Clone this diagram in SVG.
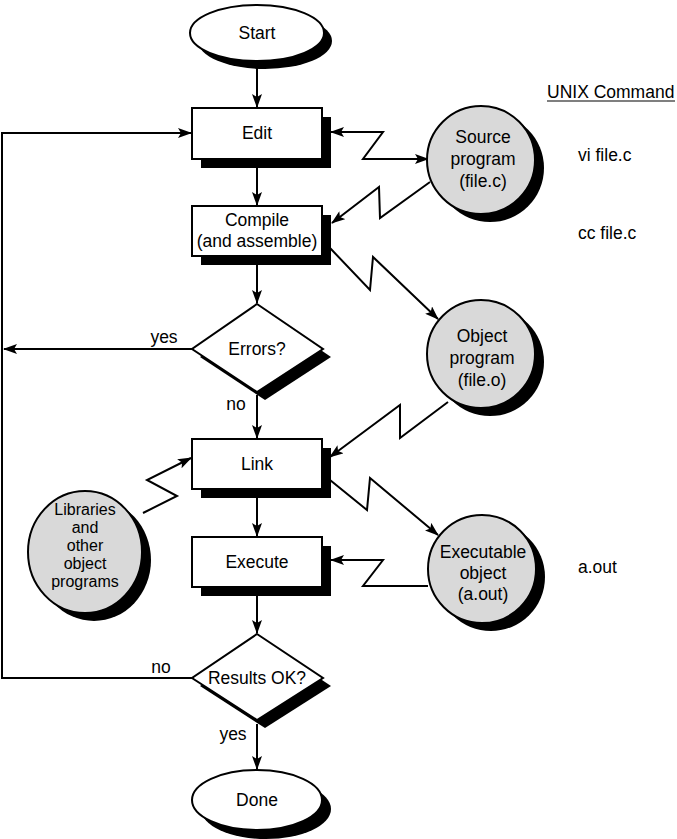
<svg xmlns="http://www.w3.org/2000/svg" width="677" height="839" viewBox="0 0 677 839">
<style>
.sh{fill:#000;stroke:none}
.box{fill:#fff;stroke:#000;stroke-width:2}
.circ{fill:#d9d9d9;stroke:#000;stroke-width:2}
.t{font-family:"Liberation Sans",Arial,sans-serif;font-size:17.5px;fill:#000;text-anchor:middle}
.ts{font-family:"Liberation Sans",Arial,sans-serif;font-size:16px;fill:#000;text-anchor:middle}
.tl{font-family:"Liberation Sans",Arial,sans-serif;font-size:17.5px;fill:#000}
.c{fill:none;stroke:#000;stroke-width:2}
</style>
<defs>
<marker id="ah" viewBox="0 0 14 10" refX="13" refY="5" markerWidth="14" markerHeight="10" markerUnits="userSpaceOnUse" orient="auto-start-reverse">
<path d="M0,0 L14,5 L0,10 L3,5 Z" fill="#000"/>
</marker>
</defs>
<rect width="677" height="839" fill="#fff"/>

<g id="connectors">
<line class="c" x1="257" y1="60" x2="257" y2="107" marker-end="url(#ah)"/>
<line class="c" x1="257" y1="168" x2="257" y2="205" marker-end="url(#ah)"/>
<line class="c" x1="257" y1="265" x2="257" y2="303" marker-end="url(#ah)"/>
<line class="c" x1="257" y1="395" x2="257" y2="438" marker-end="url(#ah)"/>
<line class="c" x1="257" y1="498" x2="257" y2="536" marker-end="url(#ah)"/>
<line class="c" x1="257" y1="596" x2="257" y2="633" marker-end="url(#ah)"/>
<line class="c" x1="257" y1="724" x2="257" y2="769" marker-end="url(#ah)"/>
<polyline class="c" points="192,678 2,678 2,133 191,133" marker-end="url(#ah)"/>
<line class="c" x1="192" y1="349" x2="4" y2="349" marker-end="url(#ah)"/>
<polyline class="c" points="428,159 363,159 383,132 331,132" marker-start="url(#ah)" marker-end="url(#ah)"/>
<polyline class="c" points="430,182 380,218 379,187 332,223" marker-end="url(#ah)"/>
<polyline class="c" points="330,248 370,290 373,257 438,319" marker-end="url(#ah)"/>
<polyline class="c" points="448,402 400,438 400,405 330,457" marker-end="url(#ah)"/>
<polyline class="c" points="330,480 367,510 370,478 438,535" marker-end="url(#ah)"/>
<polyline class="c" points="428,586 363,586 383,560 331,560" marker-end="url(#ah)"/>
<polyline class="c" points="143,513 177,496 147,480 191,458" marker-end="url(#ah)"/>
</g>

<g id="start">
<ellipse class="sh" cx="265" cy="41" rx="67" ry="28"/>
<ellipse class="box" cx="257" cy="33" rx="67" ry="28"/>
<text class="t" x="257" y="39">Start</text>
</g>

<g id="edit">
<rect class="sh" x="201" y="117" width="130" height="51"/>
<rect class="box" x="192" y="108" width="130" height="51"/>
<text class="t" x="257" y="139">Edit</text>
</g>

<g id="compile">
<rect class="sh" x="201" y="215" width="130" height="50"/>
<rect class="box" x="192" y="206" width="130" height="50"/>
<text class="t" x="257" y="226">Compile</text>
<text class="t" x="257" y="247">(and assemble)</text>
</g>

<g id="errors">
<polygon class="sh" points="265,312 331,357 265,400 200,357"/>
<polygon class="box" points="257,304 323,349 257,392 192,349"/>
<text class="t" x="257" y="355">Errors?</text>
<text class="t" x="164" y="343">yes</text>
<text class="t" x="236" y="410">no</text>
</g>

<g id="link">
<rect class="sh" x="201" y="448" width="130" height="50"/>
<rect class="box" x="192" y="439" width="130" height="50"/>
<text class="t" x="257" y="470">Link</text>
</g>

<g id="execute">
<rect class="sh" x="201" y="546" width="130" height="50"/>
<rect class="box" x="192" y="537" width="130" height="50"/>
<text class="t" x="257" y="568">Execute</text>
</g>

<g id="results">
<polygon class="sh" points="265,642 331,686 265,728 200,686"/>
<polygon class="box" points="257,634 323,678 257,720 192,678"/>
<text class="t" x="257" y="684">Results OK?</text>
<text class="t" x="161" y="673">no</text>
<text class="t" x="233" y="740">yes</text>
</g>

<g id="done">
<ellipse class="sh" cx="266" cy="809" rx="65" ry="30"/>
<ellipse class="box" cx="257" cy="800" rx="65" ry="30"/>
<text class="t" x="257" y="806">Done</text>
</g>

<g id="source">
<circle class="sh" cx="490" cy="168" r="54"/>
<circle class="circ" cx="481" cy="160" r="54"/>
<text class="t" x="483" y="143">Source</text>
<text class="t" x="483" y="165">program</text>
<text class="t" x="483" y="187">(file.c)</text>
</g>

<g id="object">
<circle class="sh" cx="490" cy="362" r="54"/>
<circle class="circ" cx="481" cy="354" r="54"/>
<text class="t" x="482" y="342">Object</text>
<text class="t" x="482" y="364">program</text>
<text class="t" x="482" y="386">(file.o)</text>
</g>

<g id="executable">
<circle class="sh" cx="491" cy="577" r="54"/>
<circle class="circ" cx="482" cy="569" r="54"/>
<text class="t" x="483" y="558">Executable</text>
<text class="t" x="483" y="579">object</text>
<text class="t" x="483" y="600">(a.out)</text>
</g>

<g id="libraries">
<ellipse class="sh" cx="94" cy="560" rx="57" ry="61"/>
<ellipse class="circ" cx="85" cy="552" rx="57" ry="61"/>
<text class="ts" x="85" y="515">Libraries</text>
<text class="ts" x="85" y="533">and</text>
<text class="ts" x="85" y="551">other</text>
<text class="ts" x="85" y="569">object</text>
<text class="ts" x="85" y="587">programs</text>
</g>

<g id="unix">
<text class="tl" x="547" y="98">UNIX Command</text>
<line x1="547" y1="101" x2="675" y2="101" stroke="#000" stroke-width="1.2"/>
<text class="tl" x="578" y="161">vi file.c</text>
<text class="tl" x="578" y="239">cc file.c</text>
<text class="tl" x="578" y="573">a.out</text>
</g>
</svg>
